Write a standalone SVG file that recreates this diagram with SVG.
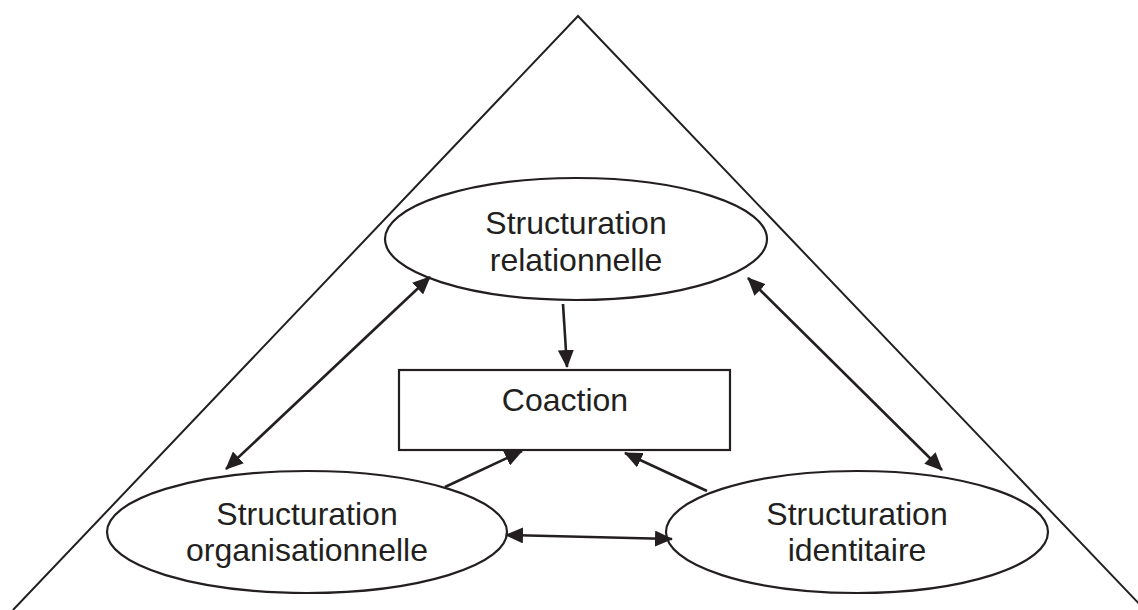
<svg xmlns="http://www.w3.org/2000/svg" width="1138" height="610" viewBox="0 0 1138 610">
<style>
.shape{fill:#fff;stroke:#231f20;stroke-width:2.2}
.lbl{font-family:"Liberation Sans",Arial,sans-serif;font-size:32px;fill:#231f20;text-anchor:middle}
.edge{stroke:#231f20;stroke-width:2.6;fill:none}
.frame{stroke:#231f20;stroke-width:2;fill:none}
</style>
<defs>
<marker id="ah" viewBox="0 0 18 16" markerUnits="userSpaceOnUse" markerWidth="18" markerHeight="16" refX="17" refY="8" orient="auto-start-reverse">
<path d="M0,0 L18,8 L0,16 z" fill="#231f20"/>
</marker>
</defs>
<rect width="1138" height="610" fill="#fff"/>
<g id="triangle">
<polyline class="frame" points="13,610 578,16 1146,611"/>
</g>
<g id="relationnelle">
<ellipse class="shape" cx="576" cy="239" rx="191" ry="61"/>
<text class="lbl" x="576" y="234">Structuration</text>
<text class="lbl" x="576" y="271">relationnelle</text>
</g>
<g id="coaction">
<rect class="shape" x="399" y="370" width="331" height="80"/>
<text class="lbl" x="565" y="411">Coaction</text>
</g>
<g id="organisationnelle">
<ellipse class="shape" cx="307" cy="532" rx="200" ry="61"/>
<text class="lbl" x="307" y="525">Structuration</text>
<text class="lbl" x="307" y="561">organisationnelle</text>
</g>
<g id="identitaire">
<ellipse class="shape" cx="857" cy="532" rx="191" ry="61"/>
<text class="lbl" x="857" y="525">Structuration</text>
<text class="lbl" x="857" y="561">identitaire</text>
</g>
<g id="connectors">
<line class="edge" x1="226" y1="469" x2="430" y2="277" marker-start="url(#ah)" marker-end="url(#ah)"/>
<line class="edge" x1="748" y1="278" x2="942" y2="470" marker-start="url(#ah)" marker-end="url(#ah)"/>
<line class="edge" x1="506" y1="535" x2="672" y2="539" marker-start="url(#ah)" marker-end="url(#ah)"/>
<line class="edge" x1="445" y1="487" x2="522" y2="451" marker-end="url(#ah)"/>
<line class="edge" x1="707" y1="491" x2="625" y2="453" marker-end="url(#ah)"/>
<line class="edge" x1="563" y1="304" x2="567" y2="367" marker-end="url(#ah)"/>
</g>
</svg>
